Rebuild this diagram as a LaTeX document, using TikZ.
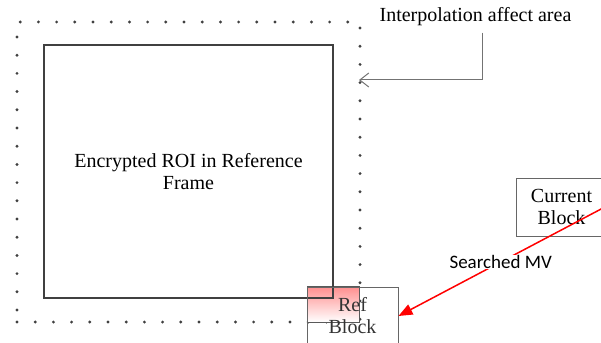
\documentclass[tikz,border=0pt]{standalone}
\usepackage{fontspec}
\setmainfont{Liberation Serif}
\newfontfamily\mvfont{Carlito}
\usetikzlibrary{arrows.meta}

\begin{document}
\begin{tikzpicture}[x=1pt,y=-1pt,
		blockbox/.style={draw=black!60,line width=0.9pt,minimum width=91pt,minimum height=58pt,align=center,font=\fontsize{20}{22}\selectfont},
		dotline/.style={draw=black!75,line width=3.2pt,line cap=round,dash pattern=on 0pt off 18.2pt}]
			
			\useasboundingbox (0,0) rectangle (601,342);
			
			% interpolation area and the ROI
			\node[dotline,minimum width=343pt,minimum height=300pt] (area) at (188.5,172) {};
			\shade[top color=red!45,bottom color=white,draw=black!65,line width=0.8pt] (307,286) rectangle (359,322);
			\node[draw=black!75,line width=1.8pt,minimum width=289pt,minimum height=253pt,align=center,font=\fontsize{20}{22}\selectfont] (roi) at (188.5,171.5) {Encrypted ROI in Reference\\Frame};
			
			% blocks
			\node[blockbox,text=black!80] (ref) at (352.5,316) {Ref\\Block};
			\node[blockbox] (cur) at (561.5,207) {Current\\Block};
			
			% labels and arrows
			\node[font=\fontsize{20}{22}\selectfont] (interp) at (475.5,17) {Interpolation affect area};
			\coordinate (hit) at (359,80);
			\draw[black!55,line width=1pt,-{Straight Barb[length=9pt,width=14pt]}] ([xshift=6.5pt,yshift=-3pt]interp.south) |- (hit);
			
			\coordinate (mvstart) at (603,208);
			\draw[red,line width=1.5pt,-{Triangle[length=14pt,width=11pt]}] (mvstart) -- (ref.east)
				node[midway,fill=white,text=black,inner sep=0.5pt,font=\mvfont\fontsize{19}{22}\selectfont] (mv) {Searched MV};
			
		\end{tikzpicture}
\end{document}
